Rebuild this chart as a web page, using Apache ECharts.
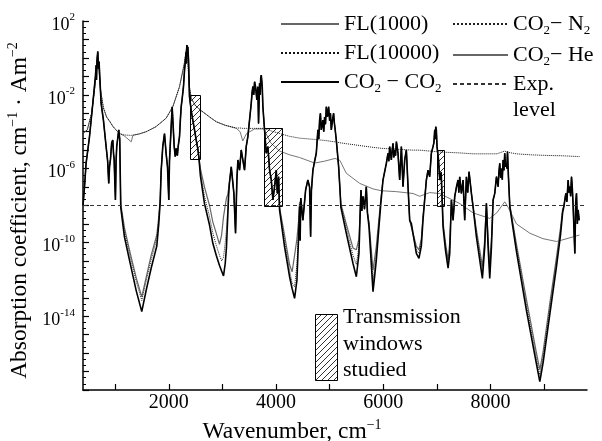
<!DOCTYPE html>
<html>
<head>
<meta charset="utf-8">
<script src="https://cdn.jsdelivr.net/npm/echarts@6/dist/echarts.min.js"></script>
<style>
  html, body { margin: 0; background: #fff; }
  #chart { width: 602px; height: 441px; }
</style>
</head>
<body>
<div id="chart"></div>
<script>
const FONT = '"Liberation Serif", "Times New Roman", serif'

// all absorption values are log10 of the coefficient, cm-1 Am-2

// band centres: common to the three mixtures
const bandWn = [
  400, 430, 458, 520, 582, 632, 645, 652, 660, 675, 690, 700, 712, 738, 781, 831, 860, 880, 895, 912, 935, 955, 970, 981, 993, 1005, 1017, 1029, 1050, 1067, 1085,
  1858, 1888, 1920, 1951, 1976, 2000, 2013, 2026, 2063, 2101, 2120, 2138, 2160, 2175, 2200, 2215, 2231, 2250, 2274, 2295, 2312, 2320, 2328, 2336, 2346, 2355, 2368, 2386, 2420, 2448, 2480, 2511, 2540, 2560,
  3130, 3165, 3195, 3214, 3245, 3270, 3289, 3320, 3351, 3381, 3413, 3444, 3475, 3506, 3538, 3553, 3568, 3585, 3600, 3618, 3643, 3661, 3674, 3693, 3705, 3714, 3725, 3743, 3755, 3786, 3818, 3848, 3880, 3911, 3942, 3973, 4005, 4024, 4048,
  4450, 4462, 4501, 4552, 4594, 4626, 4645, 4660, 4688, 4720, 4751, 4781, 4797, 4813, 4828, 4844, 4875, 4890, 4906, 4922, 4938, 4960, 4981, 5000, 5015, 5031, 5052, 5074, 5087, 5100, 5124, 5150, 5168, 5190,
  5573, 5585, 5600, 5622, 5650, 5684, 5705,
  5995, 6058, 6088, 6104, 6120, 6151, 6166, 6182, 6197, 6213, 6229, 6245, 6275, 6306, 6338, 6368, 6400, 6431, 6462, 6493,
  6804, 6835, 6866, 6897, 6928, 6945, 6960, 6970, 6979, 6990, 7003, 7030, 7053, 7080, 7103,
  7271, 7302, 7333, 7365, 7395, 7410, 7426, 7457, 7488, 7519, 7551, 7575, 7600, 7644, 7675,
  7924,
  8049, 8080, 8111, 8142, 8157, 8173, 8189, 8204, 8220, 8235, 8250, 8266, 8282, 8297, 8307, 8317, 8335,
  9368, 9405, 9425, 9448, 9464, 9480, 9495, 9511, 9525, 9542, 9573, 9590, 9604, 9620, 9635, 9654,
]
const bandLog = [
  -8.0, -6.9, -5.7, -4.3, -2.5, -1.0, -0.4, -1.2, -0.2, 0.35, -0.6, -0.2, -1.0, -2.46, -3.37, -4.8, -5.6, -6.8, -5.9, -5.5, -4.6, -4.45, -5.2, -5.5, -6.7, -7.7, -5.6, -4.8, -4.3, -3.9, -4.4,
  -6.1, -4.8, -4.1, -5.2, -5.9, -7.7, -5.6, -4.8, -2.65, -4.8, -5.35, -4.9, -5.3, -4.8, -4.27, -3.4, -2.65, -2.2, -1.56, -0.6, -0.11, 0.3, -0.3, 0.7, 0.3, 0.6, -0.1, -2.1, -2.9, -3.37, -3.9, -4.45, -4.9, -5.35,
  -6.8, -5.9, -6.0, -7.34, -9.5, -6.6, -5.53, -6.08, -4.99, -5.53, -6.08, -4.81, -4.27, -3.37, -2.46, -1.9, -1.56, -2.0, -1.29, -1.56, -2.28, -1.56, -3.55, -1.38, -2.0, -1.1, -0.93, -1.56, -2.65, -3.9, -5.17, -4.81, -6.08, -6.6, -7.7, -6.98, -6.08, -7.34, -6.44,
  -9.9, -7.6, -8.8, -7.16, -6.62, -7.0, -9.69, -7.2, -6.08, -5.6, -5.17, -3.9, -4.4, -3.37, -3.0, -3.9, -3.37, -4.0, -3.2, -3.6, -2.65, -3.19, -2.65, -3.4, -3.0, -3.9, -3.4, -3.0, -3.5, -3.8, -4.45, -5.3, -5.9, -7.0,
  -8.06, -7.16, -8.3, -7.5, -8.2, -6.98, -8.4,
  -6.62, -5.71, -5.17, -5.6, -4.81, -5.53, -5.0, -4.63, -5.4, -4.99, -5.3, -4.54, -5.17, -6.62, -4.81, -6.98, -5.53, -4.99, -6.98, -8.8,
  -6.62, -6.08, -6.44, -5.17, -4.81, -4.6, -3.9, -4.4, -3.73, -3.9, -4.81, -5.5, -6.62, -6.2, -8.06,
  -7.7, -8.8, -7.52, -7.0, -6.62, -7.3, -6.44, -7.34, -6.62, -8.8, -6.44, -7.3, -6.17, -7.34, -8.06,
  -7.88,
  -7.7, -7.34, -6.44, -6.98, -6.2, -5.71, -6.5, -6.0, -6.6, -5.53, -6.1, -5.17, -5.9, -5.71, -6.0, -5.08, -6.44,
  -8.06, -7.34, -7.8, -6.62, -7.3, -6.98, -7.5, -6.44, -7.0, -8.06, -10.6, -7.8, -7.34, -9.0, -8.24, -8.8,
]

// window wings, where the three mixtures part
const wingWn = [
  1104, 1173, 1266, 1391, 1496, 1578, 1671, 1776, 1813, 1840,
  2590, 2666, 2760, 2822, 2885, 2946, 2985, 3021, 3053, 3075, 3100, 3115,
  4066, 4159, 4253, 4300, 4346, 4390, 4421, 4440,
  5210, 5310, 5435, 5498, 5547,
  5734, 5809, 5871, 5920, 5950,
  6524, 6617, 6666, 6710, 6741,
  7115, 7160, 7209, 7240,
  7737, 7849, 7893,
  7955, 7986, 8018,
  8360, 8485, 8671, 8858, 8920, 8982, 9106, 9231, 9306, 9345,
]
const wingCO2 = [
  -8.1, -9.7, -10.95, -12.6, -13.75, -12.6, -11.4, -10.2, -9.0, -7.8,
  -6.4, -7.9, -9.06, -10.05, -10.7, -11.25, -11.55, -11.82, -11.13, -10.3, -8.6, -7.5,
  -8.24, -10.23, -11.86, -12.5, -13.03, -12.04, -9.69, -8.06,
  -8.1, -9.5, -11.13, -11.86, -10.6,
  -9.15, -12.67, -10.95, -9.15, -8.06,
  -8.97, -10.6, -10.86, -10.2, -8.8,
  -9.15, -10.4, -11.4, -10.6,
  -9.69, -11.95, -10.23,
  -10.23, -11.95, -10.23,
  -8.06, -10.5, -13.7, -16.6, -17.55, -16.5, -13.9, -11.3, -9.6, -8.4,
]
const wingN2 = [
  -8.0, -9.4, -10.6, -12.1, -13.15, -12.1, -10.95, -9.8, -8.8, -7.7,
  -6.2, -7.5, -8.6, -9.5, -10.15, -10.7, -11.0, -10.8, -10.0, -9.3, -8.2, -7.4,
  -8.2, -9.9, -11.5, -12.2, -12.4, -11.2, -9.3, -7.9,
  -8.0, -9.2, -10.7, -11.2, -10.2,
  -9.0, -12.1, -10.6, -8.9, -7.9,
  -8.9, -10.4, -10.6, -10.0, -8.7,
  -9.0, -10.2, -11.1, -10.3,
  -9.5, -11.6, -10.0,
  -10.0, -11.6, -10.0,
  -8.0, -10.3, -13.4, -16.3, -17.2, -16.2, -13.6, -11.0, -9.4, -8.3,
]
const wingHe = [
  -7.9, -9.2, -10.4, -11.9, -12.95, -11.9, -10.7, -9.6, -8.6, -7.6,
  -6.0, -7.0, -8.0, -8.9, -9.5, -10.1, -9.6, -8.6, -8.0, -7.6, -7.4, -7.3,
  -8.1, -9.6, -11.2, -11.6, -10.7, -9.8, -8.8, -7.8,
  -7.9, -9.0, -10.3, -10.4, -9.8,
  -8.9, -11.5, -10.2, -8.7, -7.8,
  -8.8, -10.2, -10.4, -9.8, -8.6,
  -8.9, -10.0, -10.95, -10.0,
  -9.3, -11.3, -9.8,
  -9.8, -11.3, -9.8,
  -7.95, -10.1, -13.1, -16.0, -16.9, -15.9, -13.3, -10.8, -9.2, -8.2,
]

// full-Lorentz envelopes
const flWn = [
  400, 480, 560, 620, 675, 730, 780, 840, 900, 960, 1030, 1090, 1180, 1300, 1330, 1450, 1580, 1760, 1950, 2075, 2200, 2290, 2340,
  2380, 2420, 2500, 2600, 2760, 2885, 3050, 3260, 3330, 3380, 3450, 3600, 3770, 3900, 4066, 4250, 4440, 4720, 4900, 5100, 5190,
  5310, 5560, 5810, 5965, 6250, 6555, 6680, 6866, 7053, 7430, 7675, 7986, 8117, 8266, 8330, 8485, 8733, 8981, 9231, 9300, 9660,
]
const fl1000 = [
  -4.1, -3.9, -3.0, -1.6, 0.3, -1.8, -2.7, -3.2, -3.45, -3.72, -3.95, -4.1, -4.25, -4.55, -4.2, -4.12, -4.0, -3.73, -3.27, -2.65, -1.56, -0.3, 0.7,
  -1.5, -2.2, -2.6, -2.85, -3.2, -3.46, -3.65, -3.82, -4.0, -4.5, -4.1, -3.85, -3.85, -4.6, -5.05, -5.25, -5.4, -5.7, -5.6, -5.45, -5.55,
  -6.25, -6.8, -7.1, -7.2, -7.25, -7.35, -7.5, -7.3, -7.35, -7.9, -8.4, -8.7, -8.4, -7.8, -8.1, -9.0, -9.5, -9.8, -9.95, -9.9, -9.6,
]
const fl10000 = [
  -4.1, -3.9, -3.0, -1.6, 0.3, -1.8, -2.7, -3.2, -3.45, -3.72, -3.95, -4.12, -4.18, -4.2, -4.2, -4.12, -4.0, -3.73, -3.27, -2.65, -1.56, -0.3, 0.7,
  -1.5, -2.2, -2.6, -2.85, -3.2, -3.46, -3.65, -3.8, -3.8, -3.82, -3.82, -3.82, -3.82, -3.95, -4.1, -4.25, -4.35, -4.42, -4.47, -4.55, -4.6,
  -4.65, -4.75, -4.85, -4.9, -4.95, -5.0, -5.0, -5.05, -5.1, -5.15, -5.2, -5.2, -5.2, -5.05, -5.12, -5.2, -5.25, -5.28, -5.3, -5.3, -5.35,
]

const expWn = [400, 9800]
const expLog = [-8, -8]

// transmission windows studied
const winFrom = [2400, 3770, 7000]
const winTo = [2590, 4110, 7130]
const winLow = [-5.5, -8, -8]
const winHigh = [-2, -3.8, -5]

const xTicks = [1000, 2000, 3000, 4000, 5000, 6000, 7000, 8000, 9000]
const xLabels = [2000, 4000, 6000, 8000]
const yLabels = [2, -2, -6, -10, -14]

const pairs = (xs, ys) => xs.map((x, i) => [x, ys[i]])
const mixture = (wing) => pairs(bandWn, bandLog).concat(pairs(wingWn, wing)).sort((a, b) => a[0] - b[0])

const hatch = function (x0, y0, x1, y1, step) {
  const out = [
    { type: 'rect', shape: { x: x0, y: y0, width: x1 - x0, height: y1 - y0 }, style: { fill: 'none', stroke: '#000', lineWidth: 1 } },
  ]
  for (let k = x0 + y0 + step; k < x1 + y1; k += step) {
    const ax = Math.max(x0, k - y1)
    const bx = Math.min(x1, k - y0)
    out.push({ type: 'line', shape: { x1: ax, y1: k - ax, x2: bx, y2: k - bx }, style: { stroke: '#000', lineWidth: 0.8 } })
  }
  return out
}

const txt = { fontFamily: FONT, color: '#000' }
const legendRich = {
  n: { ...txt, fontSize: 22, lineHeight: 26 },
  s: { ...txt, fontSize: 13, lineHeight: 13, verticalAlign: 'bottom' },
}
const legendText = {
  'FL(1000)': '{n|FL(1000)}',
  'FL(10000)': '{n|FL(10000)}',
  'CO2-CO2': '{n|CO}{s|2}{n| − CO}{s|2}',
  'CO2-N2': '{n|CO}{s|2}{n|− N}{s|2}',
  'CO2-He': '{n|CO}{s|2}{n|− He}',
  'Exp. level': '{n|Exp.}\n{n|level}',
}
const legendBase = {
  orient: 'vertical',
  selectedMode: false,
  padding: 0,
  itemHeight: 12,
  itemGap: 7,
  itemStyle: { opacity: 0 },
  formatter: (name) => legendText[name],
  textStyle: { rich: legendRich },
}

const titleRich = {
  t: { ...txt, fontSize: 23.5, lineHeight: 27 },
  p: { ...txt, fontSize: 14, lineHeight: 14, verticalAlign: 'top' },
}

const line = (name, data, color, width, type, z) => ({
  name,
  type: 'line',
  data,
  symbol: 'none',
  z,
  lineStyle: { color, width, type },
  itemStyle: { color },
})

const option = {
  animation: false,
  grid: { left: 83, right: 15, top: 21, bottom: 51, outerBoundsMode: 'none' },
  legend: [
    { ...legendBase, data: ['FL(1000)', 'FL(10000)', 'CO2-CO2'], left: 280, top: 13, itemWidth: 58 },
    { ...legendBase, data: ['CO2-N2', 'CO2-He'], left: 452, top: 13, itemWidth: 55 },
    { ...legendBase, data: ['Exp. level'], left: 452, top: 73, itemWidth: 55, textStyle: { rich: legendRich, padding: [26, 0, 0, 0] } },
  ],
  xAxis: {
    type: 'value',
    min: 400,
    max: 9800,
    minInterval: 1000,
    maxInterval: 1000,
    name: '{t|Wavenumber, cm}{p|−1}',
    nameLocation: 'middle',
    nameGap: 27,
    nameTextStyle: { padding: [0, 86, 0, 0], rich: titleRich },
    axisLine: { onZero: false, lineStyle: { color: '#000', width: 1.5 } },
    axisTick: { inside: true, length: 6, customValues: xTicks, lineStyle: { color: '#000', width: 1.2 } },
    axisLabel: {
      customValues: xLabels,
      formatter: (v) => (xLabels.includes(v) ? String(v) : ''),
      fontFamily: FONT,
      fontSize: 20,
      color: '#000',
      margin: 3,
    },
    splitLine: { show: false },
  },
  yAxis: {
    type: 'value',
    min: -18,
    max: 2,
    interval: 1,
    name: '{t|Absorption coefficient, cm}{p|−1}{t| · Am}{p|−2}',
    nameLocation: 'middle',
    nameRotate: 90,
    nameGap: 45,
    nameTextStyle: { padding: [0, 10, 0, 0], rich: titleRich },
    axisLine: { onZero: false, lineStyle: { color: '#000', width: 1.5 } },
    axisTick: { inside: true, length: 6, lineStyle: { color: '#000', width: 1.2 } },
    minorTick: { show: true, splitNumber: 3, length: 3, lineStyle: { color: '#000', width: 1 } },
    axisLabel: {
      formatter: (v) => (yLabels.includes(v) ? '{b|10}{e|' + v + '}' : ''),
      margin: 8,
      padding: [8, 0, 0, 0],
      rich: {
        b: { ...txt, fontSize: 18, lineHeight: 26 },
        e: { ...txt, fontSize: 11, lineHeight: 11, verticalAlign: 'top' },
      },
    },
    splitLine: { show: false },
  },
  graphic: [
    { type: 'group', left: 313, top: 312, children: hatch(0.5, 0.5, 22.5, 66.5, 6) },
    {
      type: 'text',
      left: 343,
      top: 304,
      style: { text: 'Transmission\nwindows\nstudied', font: '22px ' + FONT, fill: '#000', lineHeight: 26.5 },
    },
  ],
  series: [
    line('FL(1000)', pairs(flWn, fl1000), '#666', 0.9, 'solid', 2),
    line('FL(10000)', pairs(flWn, fl10000), '#111', 1, 'dotted', 2),
    line('CO2-He', mixture(wingHe), '#666', 1.2, 'solid', 3),
    line('CO2-N2', mixture(wingN2), '#222', 1, 'dotted', 4),
    line('CO2-CO2', mixture(wingCO2), '#000', 1.6, 'solid', 5),
    line('Exp. level', pairs(expWn, expLog), '#333', 1, [4, 3], 6),
    {
      type: 'custom',
      name: 'windows',
      z: 7,
      data: winFrom.map((w, i) => [w, winTo[i], winLow[i], winHigh[i]]),
      encode: { x: [0, 1], y: [2, 3] },
      renderItem: (params, api) => {
        const a = api.coord([api.value(0), api.value(3)])
        const b = api.coord([api.value(1), api.value(2)])
        return { type: 'group', children: hatch(Math.round(a[0]) + 0.5, Math.round(a[1]) + 0.5, Math.round(b[0]) + 0.5, Math.round(b[1]) + 0.5, 6) }
      },
    },
  ],
}

const c = echarts.init(document.getElementById('chart'))
c.setOption(option)
</script>
</body>
</html>
